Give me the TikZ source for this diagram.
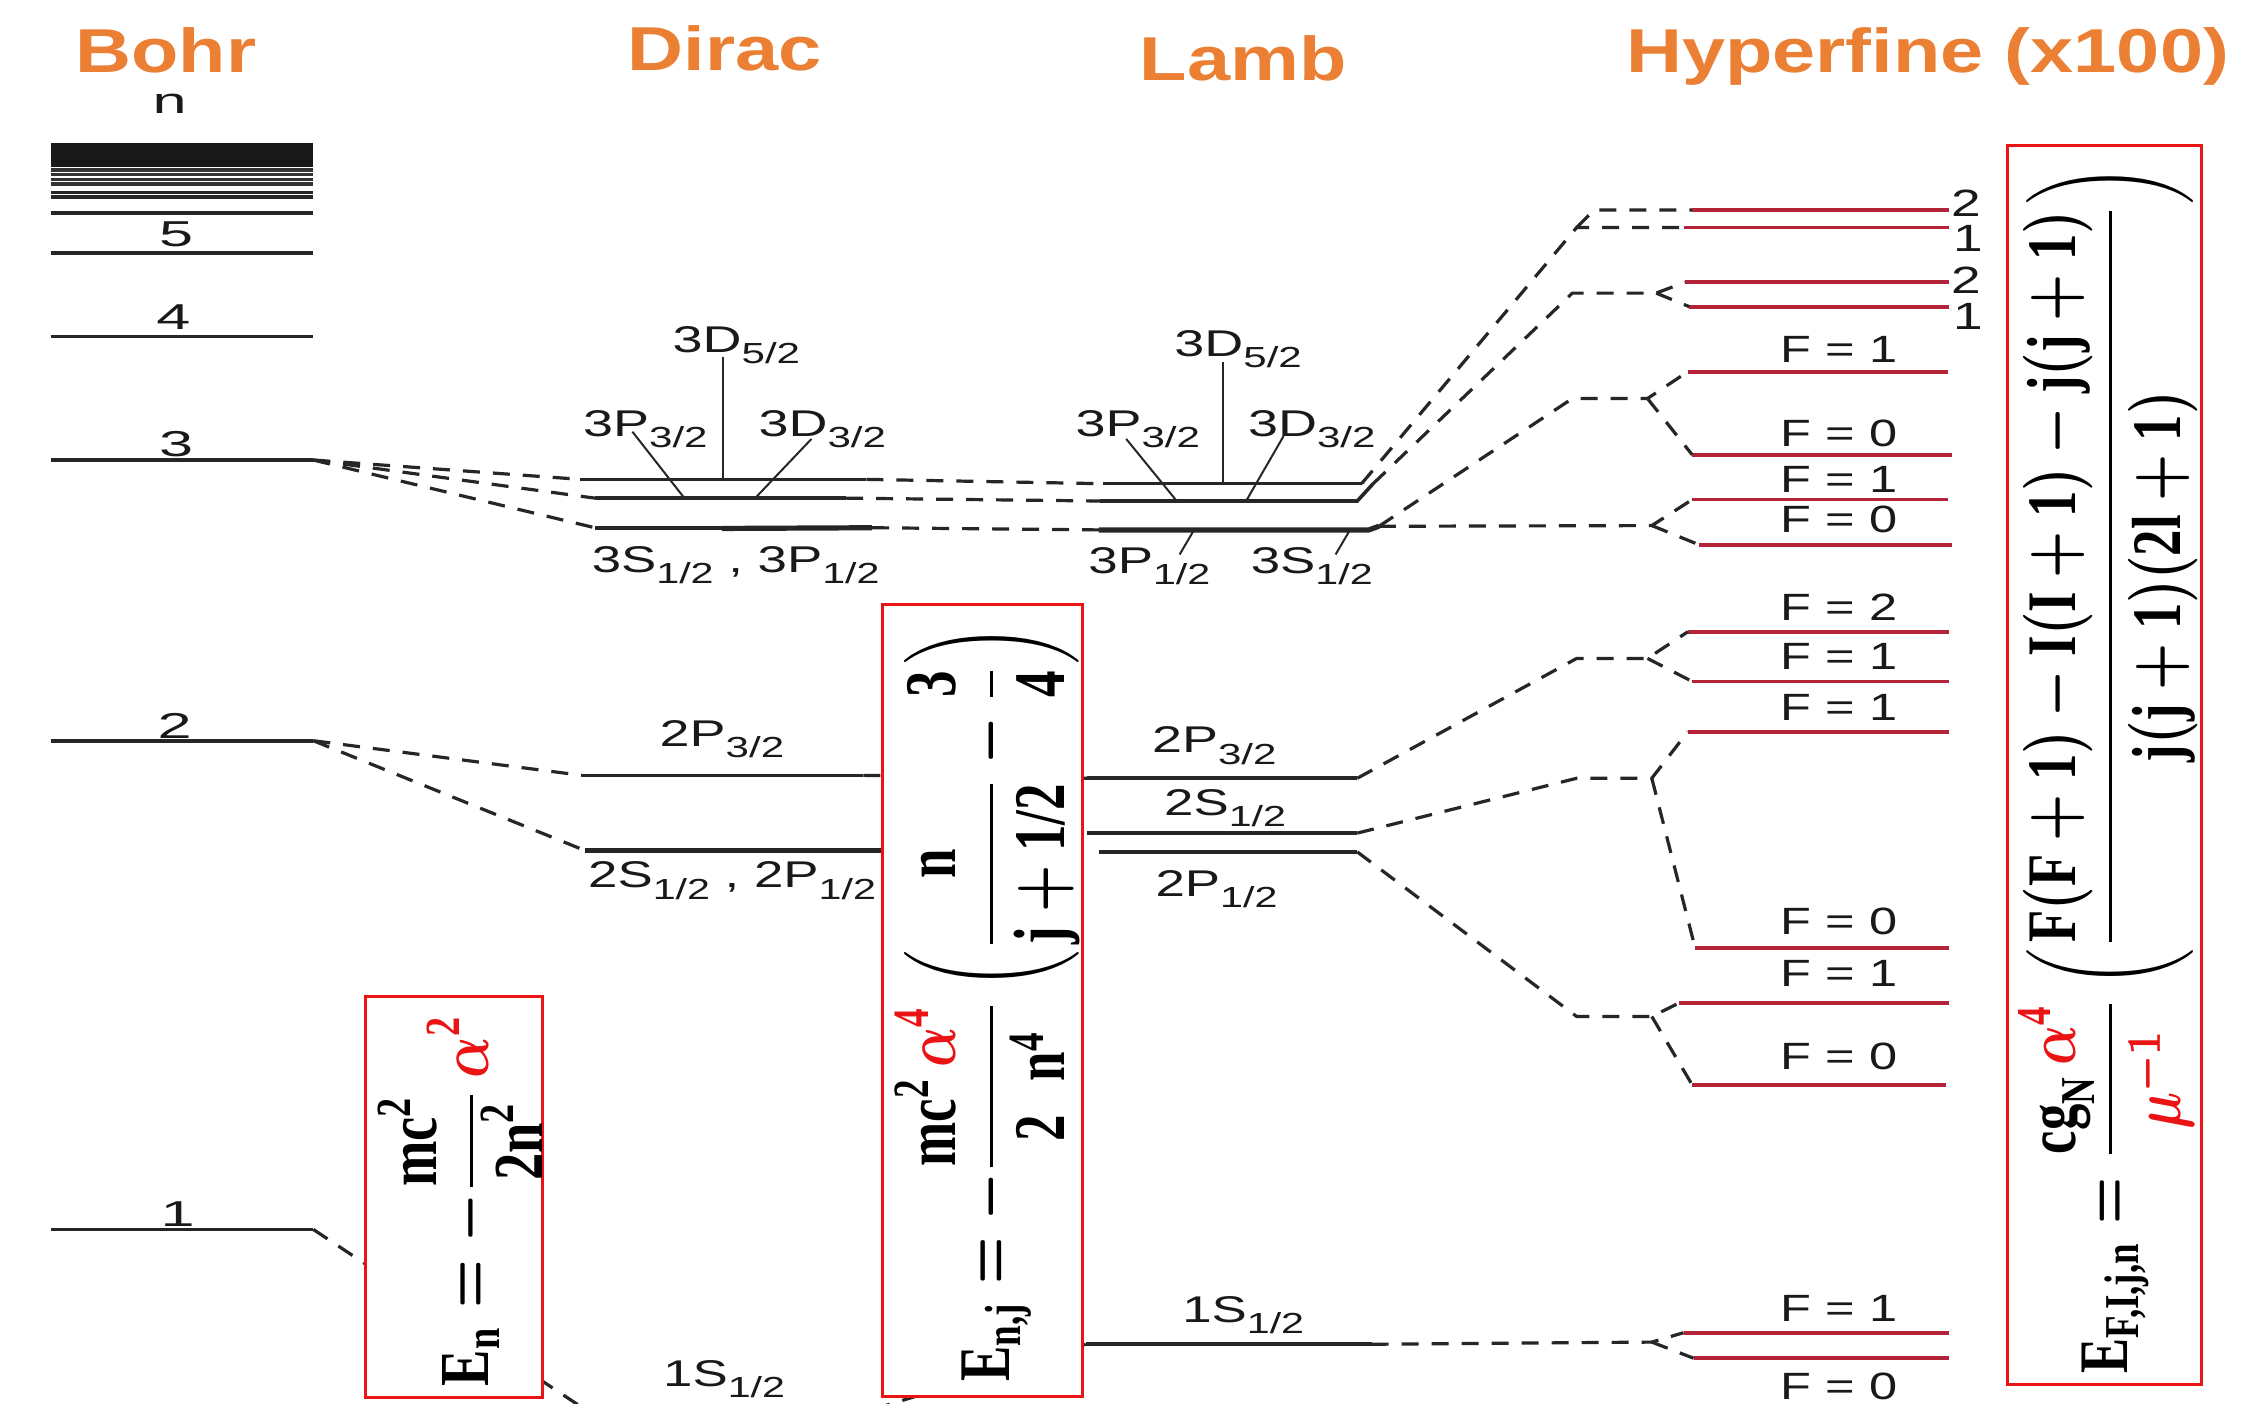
\documentclass[tikz,border=0pt]{standalone}
\usepackage{amsmath}
\usepackage{graphicx}
\usepackage{fontspec}
\setmainfont{Liberation Serif}
\newfontfamily\lab{Liberation Sans}
\definecolor{ttl}{RGB}{235,128,52}
\definecolor{hfc}{RGB}{180,35,55}
\definecolor{fred}{RGB}{235,20,20}
\newcommand\bt[1]{\textbf{#1}}
\newcommand\stt[2]{#1\raisebox{-0.3em}{\scalebox{0.78}{#2}}}
\newcommand\xs[2]{\scalebox{#1}[1]{#2}}
\tikzset{
  lev/.style={line width=1.8pt, black!85},
  hfl/.style={line width=1.9pt, hfc},
  dsh/.style={line width=1.6pt, black!85, dash pattern=on 8.5pt off 6.5pt},
  lead/.style={line width=1.0pt, black!85},
  fbox/.style={draw=fred, line width=1.5pt, fill=white},
  ttlnode/.style={inner sep=0pt, anchor=base, text=ttl, font=\lab\bfseries\fontsize{31}{31}\selectfont},
  bnum/.style={inner sep=0pt, anchor=base, text=black!90, font=\lab\fontsize{18}{18}\selectfont},
  slab/.style={inner sep=0pt, anchor=base, text=black!90, font=\lab\fontsize{18.6}{18.6}\selectfont},
  flab/.style={inner sep=0pt, anchor=base west, text=black!90, font=\lab\fontsize{19}{19}\selectfont},
}
\begin{document}
\begin{tikzpicture}[x=0.722pt,y=-0.722pt]
\useasboundingbox (0,0) rectangle (1568,972);
\clip (0,0) rectangle (1568,972);
\fill[white] (0,0) rectangle (1568,972);

% ---------- titles ----------
\node[ttlnode] (tBohr) at (115,50) {\xs{1.25}{Bohr}};
\node[ttlnode] (tDirac) at (502,48.5) {\xs{1.25}{Dirac}};
\node[ttlnode] (tLamb) at (861,55.5) {\xs{1.25}{Lamb}};
\node[ttlnode] (tHyp) at (1335,50.5) {\xs{1.25}{Hyperfine (x100)}};

% ---------- Bohr levels ----------
\fill[black!90] (35,99.3) rectangle (217,115.4);
\foreach \yy in {117.8,121,124.2,127.4}{\draw[line width=1.6pt, black!80] (35,\yy) -- (217,\yy);}
\foreach \yy in {133.3,136.5,147.7,175.4,233,318.6,513,851.5}{\draw[lev] (35,\yy) -- (217,\yy);}
\coordinate (B3) at (217,318.6);
\coordinate (B2) at (217,513);
\coordinate (B1) at (217,851.5);
\node[bnum] (nn) at (117.5,78.5) {\xs{1.7}{n}};
\node[bnum] (n5) at (122,171) {\xs{1.7}{5}};
\node[bnum] (n4) at (120,228.5) {\xs{1.7}{4}};
\node[bnum] (n3) at (122,316) {\xs{1.7}{3}};
\node[bnum] (n2) at (121,511.5) {\xs{1.7}{2}};
\node[bnum] (n1) at (123,849.5) {\xs{1.7}{1}};

% ---------- Dirac levels ----------
\coordinate (D3aL) at (402,332);   \coordinate (D3aR) at (600,332);
\coordinate (D3bL) at (412,345);   \coordinate (D3bR) at (586,345);
\coordinate (D3cL) at (412,365.5); \coordinate (D3cR) at (604,365.5);
\coordinate (D2aL) at (403,537);   \coordinate (D2aR) at (598,537);
\coordinate (D2bL) at (405,589);   \coordinate (D2bR) at (611,589);
\coordinate (D1L) at (405,976);    \coordinate (D1R) at (605,976);
\draw[lev] (D3aL) -- (D3aR);
\draw[lev] (D3bL) -- (D3bR);
\draw[lev] (D3cL) -- (D3cR);
\draw[line width=2.6pt, black!85] (500,366) -- (D3cR);
\draw[lev] (D2aL) -- (D2aR);
\draw[line width=2.4pt, black!85] (D2bL) -- (D2bR);
\draw[lev] (D1L) -- (D1R);
% leaders
\draw[lead] (501,247) -- (501,332);
\draw[lead] (438,299) -- (474,345);
\draw[lead] (562,304) -- (523,345);
\node[slab] (d3d5) at (510,244) {\xs{1.45}{\stt{3D}{5/2}}};
\node[slab] (d3p3) at (447,302) {\xs{1.45}{\stt{3P}{3/2}}};
\node[slab] (d3d3) at (569.5,302) {\xs{1.45}{\stt{3D}{3/2}}};
\node[slab] (d3s) at (509.5,396.5) {\xs{1.42}{\stt{3S}{1/2} , \stt{3P}{1/2}}};
\node[slab] (d2p3) at (500,517) {\xs{1.45}{\stt{2P}{3/2}}};
\node[slab] (d2s) at (507,615) {\xs{1.42}{\stt{2S}{1/2} , \stt{2P}{1/2}}};
\node[slab] (d1s) at (501.5,960) {\xs{1.42}{\stt{1S}{1/2}}};

% ---------- Lamb levels ----------
\coordinate (L3aL) at (764,335);  \coordinate (L3aR) at (943,335);
\coordinate (L3bL) at (762,347);  \coordinate (L3bR) at (940,347);
\coordinate (L3bT) at (951,335);
\coordinate (L3cL) at (761,367);  \coordinate (L3cR) at (948,367);
\coordinate (L3cT) at (955,364.5);
\coordinate (L2aL) at (753,539);  \coordinate (L2aR) at (940,539);
\coordinate (L2bL) at (753,577);  \coordinate (L2bR) at (940,577);
\coordinate (L2cL) at (761,590);  \coordinate (L2cR) at (940,590);
\coordinate (L1L) at (752,931);   \coordinate (L1R) at (950,931);
\draw[lev] (L3aL) -- (L3aR);
\draw[lev] (L3bL) -- (L3bR) -- (L3bT);
\draw[line width=2.6pt, black!85] (L3cL) -- (L3cR) -- (L3cT);
\draw[lev] (L2aL) -- (L2aR);
\draw[lev] (L2bL) -- (L2bR);
\draw[lev] (L2cL) -- (L2cR);
\draw[lev] (L1L) -- (L1R);
\draw[lead] (847,251) -- (847,335);
\draw[lead] (780,304) -- (815,347);
\draw[lead] (889,302) -- (863,347);
\draw[lead] (817,384) -- (827,367);
\draw[lead] (925,384) -- (935,367);
\node[slab] (l3d5) at (857.5,247) {\xs{1.45}{\stt{3D}{5/2}}};
\node[slab] (l3p3) at (788,302) {\xs{1.45}{\stt{3P}{3/2}}};
\node[slab] (l3d3) at (908.5,302) {\xs{1.45}{\stt{3D}{3/2}}};
\node[slab] (l3p1) at (796,397) {\xs{1.42}{\stt{3P}{1/2}}};
\node[slab] (l3s1) at (908.5,397) {\xs{1.42}{\stt{3S}{1/2}}};
\node[slab] (l2p3) at (841,521.5) {\xs{1.45}{\stt{2P}{3/2}}};
\node[slab] (l2s1) at (848.5,565) {\xs{1.42}{\stt{2S}{1/2}}};
\node[slab] (l2p1) at (842.5,621) {\xs{1.42}{\stt{2P}{1/2}}};
\node[slab] (l1s1) at (861,916) {\xs{1.42}{\stt{1S}{1/2}}};

% ---------- Hyperfine levels ----------
\foreach \nm/\xl/\xr/\yy in {H1/1172/1350/145.4, H2/1166/1350/157.5, H3/1167/1350/195.5, H4/1170/1350/212.4,
  H5/1169/1349/257.4, H6/1172/1352/315, H7/1172/1349/346, H8/1177/1352/377.4,
  H9/1169/1350/437.5, H10/1172/1350/472, H11/1169/1350/506.7, H12/1174/1350/656.5,
  H13/1163/1350/694.6, H14/1172/1348/751.4, H15/1166/1350/923, H16/1173/1350/940.7}{
  \coordinate (\nm L) at (\xl,\yy);
  \coordinate (\nm R) at (\xr,\yy);
  \draw[hfl] (\nm L) -- (\nm R);
}
\node[flab] (r1) at (1351,150) {\xs{1.4}{2}};
\node[flab] (r2) at (1353,174) {\xs{1.4}{1}};
\node[flab] (r3) at (1351,203) {\xs{1.4}{2}};
\node[flab] (r4) at (1353,228) {\xs{1.4}{1}};
\node[flab] (f5) at (1233,251) {\xs{1.33}{F = 1}};
\node[flab] (f6) at (1233,309) {\xs{1.33}{F = 0}};
\node[flab] (f7) at (1233,341) {\xs{1.33}{F = 1}};
\node[flab] (f8) at (1233,369) {\xs{1.33}{F = 0}};
\node[flab] (f9) at (1233,430) {\xs{1.33}{F = 2}};
\node[flab] (f10) at (1233,464) {\xs{1.33}{F = 1}};
\node[flab] (f11) at (1233,499) {\xs{1.33}{F = 1}};
\node[flab] (f12) at (1233,647) {\xs{1.33}{F = 0}};
\node[flab] (f13) at (1233,683) {\xs{1.33}{F = 1}};
\node[flab] (f14) at (1233,741) {\xs{1.33}{F = 0}};
\node[flab] (f15) at (1233,915) {\xs{1.33}{F = 1}};
\node[flab] (f16) at (1233,969) {\xs{1.33}{F = 0}};

% ---------- dashed connectors ----------
\draw[dsh] (B3) -- (D3aL);
\draw[dsh] (B3) -- (D3bL);
\draw[dsh] (B3) -- (D3cL);
\draw[dsh] (B2) -- (D2aL);
\draw[dsh] (B2) -- (D2bL);
\draw[dsh] (B1) -- (D1L);
\draw[dsh] (D3aR) -- (L3aL);
\draw[dsh] (D3bR) -- (L3bL);
\draw[dsh] (D3cR) -- (L3cL);
\draw[dsh] (D2aR) -- (L2aL);
\draw[dsh] (D2bR) -- (L2bL);
\draw[dsh] (D1R) -- (L1L);
% Lamb -> hyperfine, n = 3
\coordinate (K1) at (1092,157.5);
\coordinate (K1u) at (1104,145.4);
\draw[dsh] (L3aR) -- (K1) -- (H2L);
\draw[dsh] (K1) -- (K1u) -- (H1L);
\coordinate (K2) at (1089,203);  \coordinate (K2f) at (1147,203);
\draw[dsh] (L3bT) -- (K2) -- (K2f) -- (H3L);
\draw[dsh] (K2f) -- (H4L);
\coordinate (K3) at (1089,276);  \coordinate (K3f) at (1141,276);
\draw[dsh] (L3cT) -- (K3) -- (K3f) -- (H5L);
\draw[dsh] (K3f) -- (H6L);
\coordinate (K4f) at (1144,364);
\draw[dsh] (L3cT) -- (K4f) -- (H7L);
\draw[dsh] (K4f) -- (H8L);
% n = 2
\coordinate (K5) at (1092,456);  \coordinate (K5f) at (1141,456);
\draw[dsh] (L2aR) -- (K5) -- (K5f) -- (H9L);
\draw[dsh] (K5f) -- (H10L);
\coordinate (K6) at (1092,539);  \coordinate (K6f) at (1144,539);
\draw[dsh] (L2bR) -- (K6) -- (K6f) -- (H11L);
\draw[dsh] (K6f) -- (H12L);
\coordinate (K7) at (1092,704);  \coordinate (K7f) at (1144,704);
\draw[dsh] (L2cR) -- (K7) -- (K7f) -- (H13L);
\draw[dsh] (K7f) -- (H14L);
% n = 1
\coordinate (K8f) at (1144,929.5);
\draw[dsh] (L1R) -- (K8f) -- (H15L);
\draw[dsh] (K8f) -- (H16L);

% ---------- formula boxes ----------
\path[fbox] (253,690) rectangle (376,968);
\path[fbox] (611,419) rectangle (750,967);
\path[fbox] (1390,101) rectangle (1525,959);

\node[inner sep=0pt] (fBohr) at (319,831.5) {\rotatebox{90}{\resizebox*{185.6pt}{82.3pt}{\boldmath$\displaystyle
  \bt{E}_{\bt{n}} = -\frac{\bt{mc}^{\bt{2}}}{\bt{2n}^{\bt{2}}}\,\textcolor{fred}{\alpha^{\bt{2}}}$}}};
\node[inner sep=0pt] (fDirac) at (684,695) {\rotatebox{90}{\resizebox*{378.3pt}{92.4pt}{\boldmath$\displaystyle
  \bt{E}_{\bt{n,j}} = -\frac{\bt{mc}^{\bt{2}}\,\textcolor{fred}{\alpha^{\bt{4}}}}{\bt{2}\;\;\bt{n}^{\bt{4}}}
  \left(\frac{\bt{n}}{\bt{j}+\bt{1/2}}-\frac{\bt{3}}{\bt{4}}\right)$}}};
\node[inner sep=0pt] (fHyp) at (1460,533) {\rotatebox{90}{\resizebox*{603.6pt}{89.5pt}{\boldmath$\displaystyle
  \bt{E}_{\bt{F,I,j,n}} = \frac{\bt{cg}_{\bt{N}}\,\textcolor{fred}{\alpha^{\bt{4}}}}{\textcolor{fred}{\mu^{-1}}}
  \left(\frac{\bt{F}(\bt{F}+\bt{1})-\bt{I}(\bt{I}+\bt{1})-\bt{j}(\bt{j}+\bt{1})}{\bt{j}(\bt{j}+\bt{1})(\bt{2l}+\bt{1})}\right)$}}};
\end{tikzpicture}
\end{document}
